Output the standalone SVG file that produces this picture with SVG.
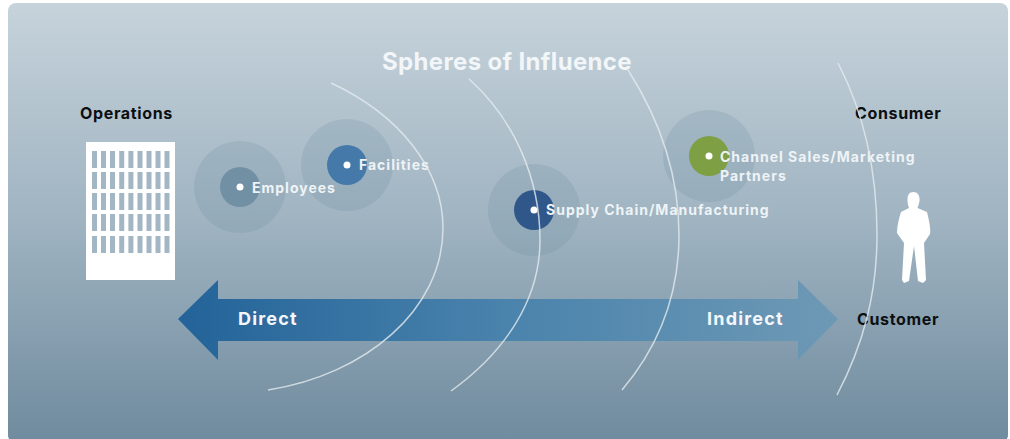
<svg xmlns="http://www.w3.org/2000/svg" width="1010" height="439" viewBox="0 0 1010 439">
<defs>
<linearGradient id="bg" x1="0" y1="0" x2="0" y2="1"><stop offset="0" stop-color="#c6d3db"/><stop offset="0.5" stop-color="#9fb3c1"/><stop offset="1" stop-color="#6f8b9e"/></linearGradient>
<linearGradient id="arrow" x1="0" y1="0" x2="1" y2="0"><stop offset="0" stop-color="#236399"/><stop offset="0.5" stop-color="#4a83ac"/><stop offset="1" stop-color="#6e99b5"/></linearGradient>
<g id="floor"><rect x="0" y="0" width="5" height="17"/><rect x="9" y="0" width="5" height="17"/><rect x="18" y="0" width="5" height="17"/><rect x="27.200000000000003" y="0" width="5" height="17"/><rect x="36.400000000000006" y="0" width="5" height="17"/><rect x="45.5" y="0" width="5" height="17"/><rect x="54.5" y="0" width="5" height="17"/><rect x="63.5" y="0" width="5" height="17"/><rect x="72.5" y="0" width="5" height="17"/></g>
</defs>
<style>
.lbl{font-family:Inter,"Liberation Sans",Arial,sans-serif;font-weight:700}
.w{fill:#eef3f6;font-size:14px;letter-spacing:1px}
.k{fill:#0c0f12;font-size:16px;letter-spacing:.65px}
.big{font-size:18px;fill:#f4f7f9;letter-spacing:1.2px}
.arc{fill:none;stroke:#e4ebef;stroke-width:1.5;stroke-opacity:.8}
.halo{fill:#6f8b9e;fill-opacity:.22}
.dot{fill:#fff}
.win{fill:#a3b6c3}
</style>
<rect width="1010" height="439" fill="#fff"/>
<rect x="8" y="3" width="1000" height="440" rx="8" fill="url(#bg)"/>
<g id="arrow-band"><path d="M178 319L218 280V299H798V280L838 319L798 360V341H218V360Z" fill="url(#arrow)"/></g>
<g id="operations"><rect x="86" y="142" width="89" height="138" fill="#fff"/><use href="#floor" x="92" y="151" class="win"/><use href="#floor" x="92" y="172" class="win"/><use href="#floor" x="92" y="193" class="win"/><use href="#floor" x="92" y="214" class="win"/><use href="#floor" x="92" y="236" class="win"/><text class="lbl k" x="80" y="119">Operations</text></g>
<g id="facilities"><circle class="halo" cx="347" cy="165" r="46"/><circle cx="347" cy="165" r="20" fill="#4479a9"/><circle class="dot" cx="347" cy="165" r="3.500"/><text class="lbl w" x="359" y="170">Facilities</text></g>
<g id="employees"><circle class="halo" cx="240" cy="187" r="46"/><circle cx="240" cy="187" r="20" fill="#7290a4"/><circle class="dot" cx="240" cy="187" r="3.500"/><text class="lbl w" x="252" y="193">Employees</text></g>
<g id="supply-chain"><circle class="halo" cx="534" cy="210" r="46"/><circle cx="534" cy="210" r="20" fill="#305789"/><circle class="dot" cx="534" cy="210" r="3.500"/><text class="lbl w" x="546" y="215">Supply Chain/Manufacturing</text></g>
<g id="channel"><circle class="halo" cx="709" cy="156" r="46"/><circle cx="709" cy="156" r="20" fill="#7e9f44"/><circle class="dot" cx="709" cy="156" r="3.500"/><text class="lbl w" x="720" y="162">Channel Sales/Marketing</text><text class="lbl w" x="720" y="181">Partners</text></g>
<g id="consumer"><path d="M913.500 192C918 192 920 196 919.500 201C919 204 918 206 917.500 208L927 212C929 220 931 229 930 234L924 243L926 280L923 283L918 281L914 246L909 281L904 283L902 280L904 243L897 233C897 226 899 218 901 212L909 208C908 205 907.500 203 907.500 200C907.500 195 909 192 913.500 192Z" fill="#fff"/><text class="lbl k" x="855" y="119">Consumer</text></g>
<g id="customer"><text class="lbl k" x="857" y="325">Customer</text></g>
<g id="arrow-labels"><text class="lbl big" x="238" y="325">Direct</text><text class="lbl big" x="707" y="325">Indirect</text></g>
<text id="title" class="lbl" x="382" y="70" font-size="24" fill="#f2f6f8" letter-spacing=".35">Spheres of Influence</text>
<g id="connectors">
<path class="arc" d="M331 83C400 115 443 170 443 228C443 310 365 375 268 390"/>
<path class="arc" d="M469 79C515 120 540 180 540 240C540 300 505 352 451 391"/>
<path class="arc" d="M628 70C660 120 679 175 679 235C679 295 660 345 622 390"/>
<path class="arc" d="M838 63C865 115 877 175 877 235C877 295 863 345 837 395"/>
</g>
</svg>
